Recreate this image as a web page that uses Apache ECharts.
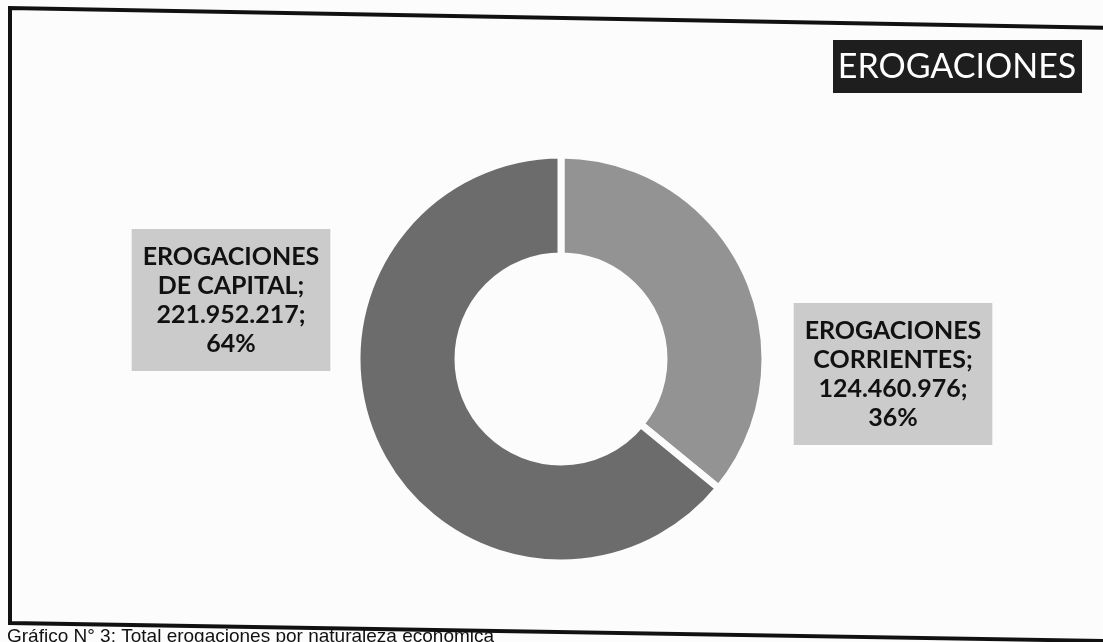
<!DOCTYPE html>
<html>
<head>
<meta charset="utf-8">
<script src="https://cdn.jsdelivr.net/npm/echarts@6/dist/echarts.min.js"></script>
<style>
html,body{margin:0;padding:0;background:#fcfcfc;}
#chart{width:1103px;height:642px;}
</style>
</head>
<body>
<div id="chart"></div>
<script>
// Data
const categories = ['EROGACIONES CORRIENTES', 'EROGACIONES DE CAPITAL'];
const values = [124460976, 221952217];
const titleText = 'EROGACIONES';
const captionText = 'Gráfico N° 3: Total erogaciones por naturaleza económica';

const colors = ['#939393', '#6c6c6c'];

function fmtNum(v) {
  return String(v).replace(/\B(?=(\d{3})+(?!\d))/g, '.');
}

const chart = echarts.init(document.getElementById('chart'));
const option = {
  backgroundColor: '#fcfcfc',
  animation: false,
  graphic: [
    // scanned frame
    { type: 'polyline', shape: { points: [[1110, 28], [10, 8], [10, 623], [1110, 641]] },
      style: { stroke: '#111', lineWidth: 4, fill: null }, z: 10 },
    // title box
    { type: 'rect', shape: { x: 833, y: 40, width: 249, height: 53 }, style: { fill: '#1e1e1e' }, z: 5 },
    { type: 'text', x: 957, y: 67, z: 6,
      style: { text: titleText, fill: '#ffffff', font: '34px Lato', align: 'center', verticalAlign: 'middle' } },
    // caption
    { type: 'text', x: 7, y: 627, z: 11,
      style: { text: captionText, fill: '#111', font: '19px "Liberation Sans", Arial', align: 'left', verticalAlign: 'top' } }
  ],
  series: [{
    type: 'pie',
    center: [561, 359],
    radius: [103, 204],
    startAngle: 90,
    clockwise: true,
    avoidLabelOverlap: false,
    itemStyle: { borderColor: '#fcfcfc', borderWidth: 7 },
    data: categories.map((c, i) => ({ name: c, value: values[i], itemStyle: { color: colors[i] } })),
    label: {
      show: true,
      position: 'outside',
      formatter: p => p.name.replace('EROGACIONES ', 'EROGACIONES\n') + ';\n' + fmtNum(p.value) + ';\n' + Math.round(p.percent) + '%',
      fontFamily: 'Lato',
      fontWeight: 'bold',
      fontSize: 25,
      lineHeight: 29,
      color: '#111',
      align: 'center',
      backgroundColor: '#cbcbcb',
      padding: [13, 11, 13, 11]
    },
    labelLine: { show: false },
    labelLayout: function (p) {
      if (p.dataIndex === 1) return { x: 231, y: 300, align: 'center', verticalAlign: 'middle' };
      return { x: 893, y: 374, align: 'center', verticalAlign: 'middle' };
    }
  }]
};
chart.setOption(option);
</script>
</body>
</html>
